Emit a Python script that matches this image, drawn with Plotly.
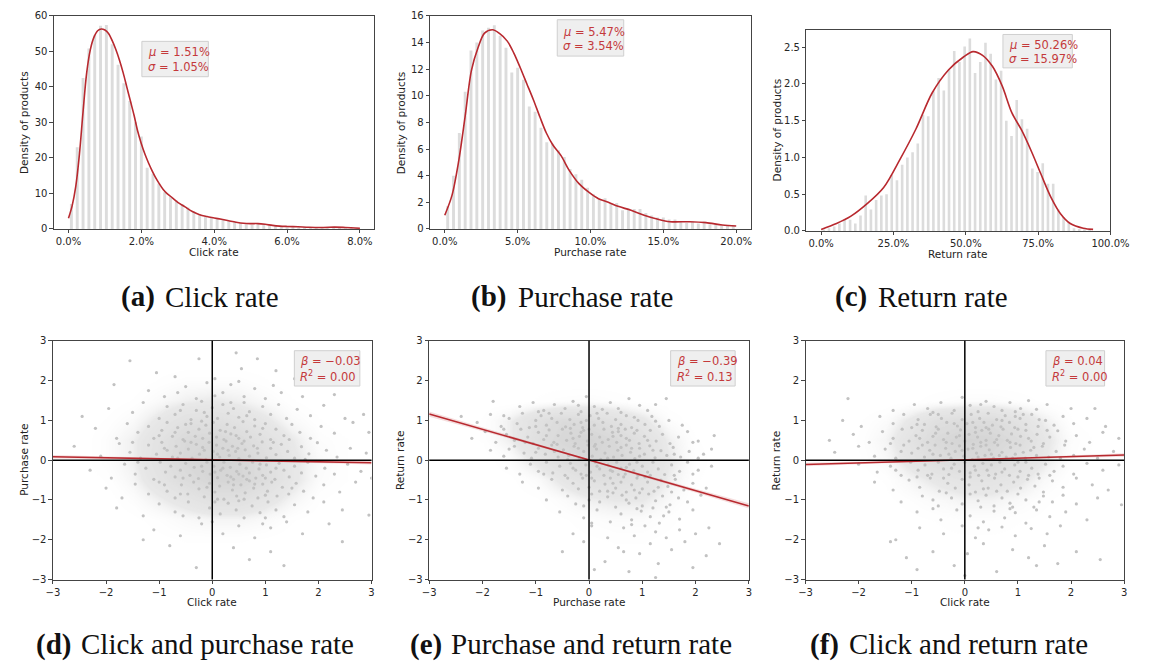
import plotly.graph_objects as go

W, H = 1149, 668

# ---------------- Histogram data ----------------
click_bins = [0.08,0.24,0.40,0.56,0.72,0.88,1.04,1.20,1.36,1.52,1.68,1.84,2.00,2.16,2.32,2.48,2.64,2.80,2.96,3.12,
              3.28,3.44,3.60,3.76,3.92,4.08,4.24,4.40,4.56,4.72,4.88,5.04,5.20,5.36,5.52,5.68,5.84,6.00,6.16,6.32,
              6.48,6.64,6.80,6.96,7.12,7.28,7.44,7.60,7.76,7.92]
click_hist = [7,23,42.5,50.8,54.5,57.2,57.4,52,46.2,41,36,30,26,17.2,15.5,12.8,10.3,9,8,7,
              6,5,4.2,3.6,3.2,2.8,2.5,2.2,1.9,1.6,1.3,1.2,1.3,1.1,0.9,0.8,0.8,0.6,0.5,0.5,
              0.4,0.4,0.3,0.4,0.3,0.4,0.4,0.3,0.2,0.2]
click_kde_x = [0,0.1,0.2,0.3,0.4,0.5,0.6,0.7,0.8,0.9,1.0,1.1,1.2,1.3,1.4,1.5,1.6,1.7,1.8,1.9,2.0,2.1,2.2,2.3,2.4,
               2.5,2.6,2.7,2.8,3.0,3.2,3.4,3.6,3.8,4.0,4.2,4.4,4.6,4.8,5.0,5.2,5.4,5.6,5.8,6.0,6.3,6.6,7.0,7.3,7.6,8.0]
click_kde_y = [3,6.5,12,21,33,44,50.5,54,55.8,56.3,56,55,53,50.5,47.5,44,40,36,32,27.5,24,21,18.5,16.3,14.3,
               12.6,11.1,10,9.2,7.5,6.2,4.9,4.0,3.5,3.1,2.7,2.3,1.9,1.6,1.5,1.5,1.3,1.0,0.8,0.7,0.6,0.45,0.4,0.5,0.4,0.2]

purchase_bins = [0.2,0.6,1.0,1.4,1.8,2.2,2.6,3.0,3.4,3.8,4.2,4.6,5.0,5.4,5.8,6.2,6.6,7.0,7.4,7.8,
                 8.2,8.6,9.0,9.4,9.8,10.2,10.6,11.0,11.4,11.8,12.2,12.6,13.0,13.4,13.8,14.2,14.6,15.0,15.4,15.8,
                 16.2,16.6,17.0,17.4,17.8,18.2,18.6,19.0,19.4,19.8]
purchase_hist = [1.7,4.0,7.2,10.3,13.4,14.0,14.9,15.1,15.3,14.5,13.6,11.75,12.1,11.2,9.2,8.8,7.6,6.5,6.4,5.9,
                 5.4,4.5,4.1,3.7,3.1,2.6,2.25,2.3,1.9,1.95,1.4,1.5,1.5,1.5,1.2,1.0,0.85,0.85,0.7,0.7,
                 0.6,0.45,0.55,0.4,0.55,0.35,0.35,0.25,0.25,0.25]
purchase_kde_x = [0,0.49,0.94,1.39,1.83,2.28,2.73,3.28,3.73,4.29,4.74,5.18,5.63,6.08,6.53,6.97,7.42,7.98,8.54,
                  9.21,9.88,10.55,11.22,11.89,12.78,13.68,14.57,15.46,16.8,17.92,19.04,20.0]
purchase_kde_y = [1.03,2.5,5.0,8.4,11.9,13.6,14.7,14.95,14.7,14.1,13.2,12.1,10.9,9.7,8.4,7.2,6.3,5.5,4.4,
                  3.4,2.76,2.27,2.0,1.7,1.4,1.03,0.74,0.54,0.54,0.47,0.3,0.22]

return_bins = [0.9,2.7,4.5,6.3,8.1,10.0,11.8,13.6,15.4,17.2,19.0,20.8,22.6,24.4,26.2,28.0,29.8,31.6,33.4,35.2,
               37.0,38.8,40.6,42.4,44.2,46.0,47.8,49.6,51.4,53.2,55.0,56.8,58.6,60.4,62.2,64.0,65.8,67.6,69.4,71.2,
               73.0,74.8,76.6,78.4,80.2,82.0,83.8,85.6,87.4,89.2,91.0,92.8]
return_hist = [0.02,0.035,0.06,0.10,0.155,0.15,0.10,0.21,0.48,0.29,0.42,0.48,0.50,0.76,0.69,0.9,1.0,1.07,1.19,1.58,
               1.56,1.90,2.08,1.91,2.19,2.45,2.30,2.51,2.62,2.15,2.30,2.56,2.41,2.06,2.18,1.50,1.29,1.78,1.52,1.39,
               0.85,0.80,0.92,0.64,0.64,0.29,0.19,0.12,0.035,0.025,0.02,0.015]
return_kde_x = [0,5.3,10.3,15.9,21.6,27.2,32.8,38.4,44.0,49.3,52.5,55.8,59.2,62.6,65.9,69.3,72.7,76.0,79.4,
                82.8,86.1,90.6,94.0]
return_kde_y = [0.02,0.1,0.2,0.37,0.59,0.97,1.39,1.88,2.19,2.37,2.44,2.39,2.24,1.97,1.61,1.37,1.08,0.77,0.46,
                0.23,0.1,0.035,0.02]

# ---------------- Scatter data (standardised rates) ----------------
click_purchase_pts = [
    (-1.55,2.50),(-0.25,2.55),(0.45,2.70),(0.05,2.05),(0.85,2.55),(1.20,2.25),(-0.70,2.10),(0.55,2.30),(-1.05,2.20),(1.55,2.05),
    (-1.85,1.90),(-1.20,1.75),(-0.90,1.60),(-0.50,1.85),(-0.30,1.55),(-0.10,1.95),(0.20,1.70),(0.35,1.90),(0.60,1.60),(0.80,1.80),
    (1.00,1.55),(1.30,1.70),(1.70,1.60),(2.30,1.65),(-0.65,1.70),(0.05,1.62),(0.50,1.98),(1.15,1.88),
    (-2.45,1.10),(-1.95,1.30),(-1.50,1.20),(-1.30,1.45),(-1.00,1.05),(-0.85,1.35),(-0.70,1.15),(-0.55,1.40),(-0.40,1.02),(-0.30,1.25),
    (-0.20,1.48),(-0.10,1.10),(0.00,1.32),(0.10,1.05),(0.20,1.40),(0.30,1.18),(0.40,1.30),(0.50,1.08),(0.60,1.45),(0.70,1.22),
    (0.80,1.02),(0.95,1.35),(1.10,1.15),(1.25,1.40),(1.40,1.05),(1.60,1.28),(1.85,1.12),(2.10,1.38),(2.50,1.05),(2.85,1.15),
    (-0.15,1.20),(0.35,1.45),(0.65,1.12),(-0.60,1.25),
    (-2.20,0.80),(-1.80,0.55),(-1.60,0.92),(-1.40,0.70),(-1.20,0.85),(-1.10,0.55),(-0.95,0.75),(-0.85,0.95),(-0.75,0.60),(-0.65,0.82),
    (-0.55,0.52),(-0.45,0.70),(-0.40,0.92),(-0.32,0.60),(-0.25,0.78),(-0.18,0.55),(-0.12,0.88),(-0.05,0.68),(0.02,0.95),(0.08,0.58),
    (0.15,0.75),(0.22,0.52),(0.28,0.90),(0.35,0.66),(0.42,0.82),(0.50,0.55),(0.58,0.97),(0.65,0.72),(0.72,0.58),(0.80,0.86),
    (0.90,0.65),(1.00,0.92),(1.10,0.52),(1.20,0.78),(1.35,0.62),(1.50,0.90),(1.65,0.70),(1.85,0.55),(2.05,0.85),(2.30,0.68),
    (2.65,0.95),(2.95,0.70),(-0.70,0.70),(-0.20,0.98),(0.45,0.62),(0.95,0.80),(-1.00,0.62),(0.25,0.72),(-0.50,0.90),(1.45,0.52),
    (-2.60,0.35),(-2.10,0.10),(-1.75,0.42),(-1.55,0.20),(-1.35,0.05),(-1.20,0.38),(-1.05,0.15),(-0.95,0.45),(-0.85,0.25),(-0.75,0.08),
    (-0.68,0.35),(-0.60,0.18),(-0.52,0.48),(-0.45,0.28),(-0.38,0.05),(-0.30,0.40),(-0.24,0.15),(-0.18,0.32),(-0.12,0.02),(-0.06,0.45),
    (0.02,0.22),(0.08,0.38),(0.14,0.08),(0.20,0.30),(0.26,0.48),(0.32,0.12),(0.38,0.35),(0.44,0.22),(0.50,0.04),(0.56,0.42),
    (0.62,0.26),(0.70,0.10),(0.78,0.36),(0.86,0.18),(0.94,0.46),(1.02,0.06),(1.10,0.30),(1.20,0.14),(1.30,0.40),(1.42,0.22),
    (1.55,0.05),(1.68,0.34),(1.82,0.16),(1.98,0.44),(2.15,0.25),(2.35,0.08),(2.60,0.30),(2.90,0.18),(-0.90,0.30),(-0.40,0.45),
    (0.10,0.15),(0.60,0.48),(1.15,0.45),(0.30,0.25),(-0.15,0.25),(0.85,0.30),(-1.50,0.45),(0.48,0.30),(-0.65,0.05),(1.75,0.02),
    (-2.30,-0.25),(-1.90,-0.45),(-1.65,-0.10),(-1.45,-0.35),(-1.25,-0.20),(-1.10,-0.48),(-0.98,-0.05),(-0.88,-0.30),(-0.78,-0.15),(-0.70,-0.42),
    (-0.60,-0.25),(-0.50,-0.08),(-0.42,-0.38),(-0.34,-0.18),(-0.26,-0.46),(-0.18,-0.28),(-0.10,-0.05),(-0.04,-0.35),(0.03,-0.15),(0.10,-0.44),
    (0.16,-0.25),(0.22,-0.05),(0.28,-0.38),(0.34,-0.18),(0.40,-0.48),(0.46,-0.28),(0.52,-0.10),(0.58,-0.40),(0.64,-0.20),(0.70,-0.32),
    (0.76,-0.05),(0.82,-0.45),(0.88,-0.22),(0.95,-0.38),(1.02,-0.12),(1.10,-0.30),(1.18,-0.48),(1.26,-0.08),(1.35,-0.25),(1.45,-0.42),
    (1.55,-0.15),(1.68,-0.32),(1.80,-0.05),(1.95,-0.40),(2.12,-0.20),(2.30,-0.35),(2.55,-0.10),(2.80,-0.28),(3.00,-0.45),(0.05,-0.30),
    (0.50,-0.35),(0.90,-0.10),(0.35,-0.42),(-0.20,-0.15),(1.20,-0.20),(0.65,-0.48),(-0.55,-0.45),(0.20,-0.20),(1.00,-0.45),(-1.40,-0.05),
    (-2.00,-0.70),(-1.70,-0.95),(-1.45,-0.60),(-1.20,-0.85),(-1.00,-0.55),(-0.85,-0.78),(-0.70,-0.95),(-0.58,-0.62),(-0.46,-0.85),(-0.35,-0.55),
    (-0.25,-0.72),(-0.15,-0.92),(-0.05,-0.58),(0.05,-0.80),(0.14,-0.65),(0.22,-0.98),(0.30,-0.55),(0.38,-0.75),(0.46,-0.90),(0.54,-0.62),
    (0.62,-0.82),(0.70,-0.52),(0.78,-0.70),(0.86,-0.95),(0.95,-0.60),(1.04,-0.78),(1.12,-0.55),(1.22,-0.90),(1.32,-0.68),(1.44,-0.85),
    (1.58,-0.58),(1.72,-0.78),(1.90,-0.95),(2.10,-0.62),(2.40,-0.80),(2.70,-0.55),(-0.60,-0.85),(0.10,-0.98),(0.60,-0.98),(1.00,-0.88),
    (0.40,-0.62),(-0.10,-0.68),(0.80,-0.60),(1.50,-0.70),(-0.90,-0.62),
    (-1.80,-1.20),(-1.30,-1.40),(-1.00,-1.10),(-0.70,-1.30),(-0.45,-1.05),(-0.25,-1.45),(-0.05,-1.20),(0.15,-1.35),(0.30,-1.08),(0.45,-1.25),
    (0.60,-1.45),(0.75,-1.15),(0.90,-1.32),(1.05,-1.05),(1.20,-1.25),(1.35,-1.42),(1.55,-1.12),(1.80,-1.30),(2.10,-1.05),(2.45,-1.25),
    (-0.55,-1.40),(0.50,-1.02),(1.00,-1.45),(0.05,-1.05),(2.95,-1.38),
    (-1.10,-1.75),(-0.60,-1.90),(-0.20,-1.60),(0.20,-1.85),(0.50,-1.65),(0.80,-1.95),(1.10,-1.70),(1.40,-1.55),(1.70,-1.85),(2.20,-1.60),
    (0.00,-1.55),(0.95,-1.60),
    (-1.30,-2.00),(-0.30,-2.70),(0.40,-2.20),(1.10,-2.30),(1.35,-2.65),(2.45,-2.05),(-0.80,-2.15),(0.70,-2.50),
]

purchase_return_pts = [
    (-1.30,1.35),(-1.05,1.45),(-0.85,1.25),(-0.65,1.40),(-0.45,1.30),(-0.30,1.48),(-0.15,1.22),(-0.05,1.60),(0.10,1.35),(0.25,1.28),
    (0.40,1.45),(0.55,1.30),(0.75,1.55),(0.95,1.38),(1.10,1.25),(1.25,1.40),(-0.95,1.22),(-0.20,1.38),(0.60,1.20),(1.45,1.55),(-1.80,1.48),
    (-2.40,1.10),(-2.10,0.95),(-1.85,1.15),(-1.65,0.85),(-1.50,1.05),(-1.35,0.92),(-1.25,1.18),(-1.12,0.82),(-1.00,1.00),(-0.90,1.12),
    (-0.80,0.88),(-0.70,1.05),(-0.60,0.95),(-0.52,1.18),(-0.44,0.84),(-0.36,1.02),(-0.28,0.90),(-0.20,1.15),(-0.12,0.82),(-0.05,1.00),
    (0.02,1.12),(0.10,0.88),(0.18,1.05),(0.26,0.95),(0.34,1.18),(0.42,0.85),(0.50,1.02),(0.60,0.90),(0.70,1.12),(0.80,0.82),
    (0.92,1.00),(1.05,0.90),(1.18,1.10),(1.32,0.85),(1.50,1.00),(1.75,0.88),(-0.75,1.18),(-0.35,0.80),(0.15,1.18),(0.55,0.80),
    (-1.00,0.85),(0.85,1.08),(-0.15,0.95),(-1.60,1.12),(1.25,0.98),
    (-2.20,0.55),(-1.95,0.72),(-1.75,0.45),(-1.55,0.65),(-1.40,0.50),(-1.28,0.78),(-1.15,0.58),(-1.05,0.42),(-0.95,0.70),(-0.85,0.52),
    (-0.75,0.76),(-0.66,0.45),(-0.58,0.62),(-0.50,0.78),(-0.42,0.50),(-0.34,0.68),(-0.26,0.42),(-0.18,0.60),(-0.10,0.75),(-0.03,0.48),
    (0.05,0.65),(0.12,0.40),(0.20,0.58),(0.28,0.78),(0.36,0.52),(0.44,0.70),(0.52,0.45),(0.60,0.62),(0.68,0.78),(0.76,0.50),
    (0.85,0.68),(0.94,0.42),(1.04,0.60),(1.15,0.75),(1.26,0.48),(1.38,0.65),(1.52,0.42),(1.68,0.58),(1.85,0.72),(2.05,0.48),
    (2.35,0.62),(-0.80,0.62),(-0.30,0.55),(0.25,0.45),(0.70,0.55),(-1.20,0.45),(0.00,0.78),(0.45,0.60),(-0.60,0.40),(1.10,0.50),
    (-0.15,0.70),(0.90,0.75),(-1.60,0.78),(0.55,0.72),(1.95,0.45),
    (-1.85,0.25),(-1.60,0.10),(-1.40,0.35),(-1.22,0.18),(-1.08,0.05),(-0.95,0.30),(-0.82,0.15),(-0.70,0.38),(-0.58,0.08),(-0.48,0.26),
    (-0.38,0.12),(-0.28,0.35),(-0.18,0.05),(-0.10,0.22),(-0.02,0.38),(0.06,0.10),(0.14,0.28),(0.22,0.02),(0.30,0.18),(0.38,0.35),
    (0.46,0.08),(0.54,0.25),(0.62,0.12),(0.70,0.38),(0.78,0.20),(0.86,0.04),(0.95,0.30),(1.04,0.15),(1.14,0.36),(1.24,0.06),
    (1.35,0.24),(1.46,0.12),(1.58,0.32),(1.72,0.08),(1.88,0.22),(2.05,0.05),(2.30,0.28),(-0.65,0.22),(-0.20,0.30),(0.35,0.05),
    (0.80,0.30),(-1.00,0.20),(0.10,0.35),(1.20,0.25),(-0.40,0.02),(0.60,0.32),(1.60,0.15),(2.15,0.15),(-1.50,0.28),(0.95,0.10),
    (-1.55,-0.20),(-1.30,-0.35),(-1.10,-0.10),(-0.95,-0.28),(-0.80,-0.05),(-0.68,-0.32),(-0.55,-0.15),(-0.45,-0.38),(-0.35,-0.08),(-0.25,-0.25),
    (-0.15,-0.35),(-0.06,-0.12),(0.03,-0.30),(0.12,-0.05),(0.20,-0.22),(0.28,-0.38),(0.36,-0.12),(0.44,-0.28),(0.52,-0.05),(0.60,-0.20),
    (0.68,-0.35),(0.76,-0.10),(0.84,-0.26),(0.92,-0.38),(1.00,-0.15),(1.10,-0.30),(1.20,-0.05),(1.30,-0.22),(1.42,-0.36),(1.55,-0.12),
    (1.70,-0.28),(1.85,-0.05),(2.05,-0.25),(2.30,-0.15),(-0.05,-0.38),(0.40,-0.25),(0.90,-0.05),(1.15,-0.38),(-0.30,-0.20),(0.70,-0.18),
    (1.60,-0.38),(0.15,-0.15),(-0.85,-0.35),(1.95,-0.35),(0.55,-0.36),
    (-1.25,-0.55),(-0.95,-0.70),(-0.70,-0.48),(-0.50,-0.75),(-0.30,-0.58),(-0.12,-0.45),(0.00,-0.68),(0.10,-0.52),(0.20,-0.78),(0.30,-0.60),
    (0.40,-0.45),(0.50,-0.70),(0.60,-0.55),(0.70,-0.80),(0.80,-0.62),(0.90,-0.45),(1.00,-0.72),(1.10,-0.55),(1.22,-0.78),(1.35,-0.50),
    (1.48,-0.66),(1.62,-0.48),(1.78,-0.75),(1.95,-0.58),(-0.20,-0.72),(0.35,-0.78),(0.85,-0.75),(1.30,-0.68),(0.65,-0.42),(0.05,-0.45),
    (-0.40,-0.45),(1.55,-0.80),(0.45,-0.58),(1.05,-0.42),(2.20,-0.70),
    (-0.80,-1.00),(-0.40,-0.90),(-0.10,-1.15),(0.05,-0.85),(0.20,-1.05),(0.35,-0.92),(0.50,-1.18),(0.62,-0.88),(0.75,-1.08),(0.88,-0.95),
    (1.00,-1.15),(1.12,-0.85),(1.25,-1.02),(1.38,-0.90),(1.52,-1.12),(1.68,-0.95),(1.85,-1.05),(2.10,-0.88),(0.00,-1.00),(0.45,-0.82),
    (0.95,-0.82),(1.45,-1.18),(-0.25,-1.10),(0.70,-1.00),(1.20,-1.20),
    (-0.55,-1.30),(-0.10,-1.45),(0.15,-1.25),(0.40,-1.55),(0.60,-1.35),(0.80,-1.50),(0.98,-1.28),(1.15,-1.42),(1.32,-1.58),(1.50,-1.30),
    (1.70,-1.48),(1.95,-1.25),(0.05,-1.58),(0.90,-1.22),(1.40,-1.40),
    (-0.30,-1.85),(0.05,-1.65),(0.35,-1.95),(0.65,-1.70),(0.85,-1.90),(1.05,-1.65),(1.25,-1.80),(1.45,-1.95),(1.70,-1.75),(2.00,-1.85),
    (0.80,-1.62),(2.25,-1.70),
    (-0.50,-2.30),(-0.10,-2.05),(0.30,-2.55),(0.55,-2.20),(0.75,-2.80),(0.95,-2.35),(1.15,-2.10),(1.30,-2.60),(1.55,-2.25),(1.80,-2.05),
    (1.95,-2.70),(2.20,-2.40),(2.45,-2.10),(0.10,-2.75),(0.65,-2.30),(1.25,-2.95),
]

click_return_pts = [
    (-2.20,1.55),(-1.35,1.25),(-0.95,1.40),(-0.70,1.30),(-0.45,1.45),(-0.20,1.25),(-0.05,1.58),(0.10,1.38),(0.25,1.22),(0.40,1.48),
    (0.55,1.35),(0.70,1.25),(0.85,1.45),(1.05,1.30),(1.20,1.50),(1.35,1.28),(1.55,1.40),(-0.60,1.20),(0.30,1.40),(0.95,1.22),(2.00,1.30),(2.45,1.30),
    (-2.30,1.00),(-1.95,0.85),(-1.60,1.10),(-1.35,0.92),(-1.15,1.15),(-1.00,0.82),(-0.88,1.02),(-0.76,0.90),(-0.65,1.15),(-0.54,0.84),
    (-0.44,1.05),(-0.34,0.95),(-0.24,1.18),(-0.14,0.86),(-0.05,1.02),(0.04,0.92),(0.12,1.15),(0.20,0.82),(0.28,1.05),(0.36,0.95),
    (0.44,1.18),(0.52,0.88),(0.60,1.02),(0.68,0.84),(0.76,1.12),(0.84,0.95),(0.94,0.82),(1.04,1.05),(1.15,0.90),(1.26,1.15),
    (1.38,0.85),(1.52,1.00),(1.68,0.88),(1.85,1.10),(2.05,0.92),(2.30,1.05),(2.65,0.85),(-0.50,1.15),(0.15,0.95),(0.70,1.00),
    (-0.90,0.90),(1.10,1.15),(0.40,0.82),(-0.20,0.92),(0.95,1.10),(1.40,1.02),
    (-2.55,0.50),(-2.10,0.65),(-1.80,0.45),(-1.55,0.72),(-1.35,0.55),(-1.18,0.78),(-1.05,0.48),(-0.92,0.62),(-0.80,0.75),(-0.70,0.45),
    (-0.60,0.60),(-0.50,0.78),(-0.40,0.52),(-0.32,0.68),(-0.24,0.42),(-0.16,0.58),(-0.08,0.76),(0.00,0.48),(0.08,0.65),(0.16,0.40),
    (0.24,0.58),(0.32,0.75),(0.40,0.50),(0.48,0.68),(0.56,0.45),(0.64,0.62),(0.72,0.78),(0.80,0.50),(0.88,0.66),(0.96,0.42),
    (1.05,0.60),(1.15,0.75),(1.25,0.48),(1.36,0.65),(1.48,0.42),(1.60,0.58),(1.75,0.74),(1.90,0.48),(2.10,0.62),(2.35,0.45),
    (2.60,0.70),(2.90,0.55),(-0.85,0.55),(-0.35,0.45),(0.20,0.70),(0.60,0.52),(1.00,0.78),(-0.10,0.62),(0.45,0.78),(1.20,0.55),
    (-1.40,0.42),(0.85,0.45),(0.30,0.45),(-0.55,0.68),(1.55,0.75),
    (-2.45,0.20),(-2.00,0.35),(-1.70,0.10),(-1.50,0.28),(-1.30,0.05),(-1.15,0.38),(-1.00,0.18),(-0.88,0.30),(-0.76,0.08),(-0.66,0.25),
    (-0.56,0.38),(-0.46,0.12),(-0.36,0.30),(-0.26,0.05),(-0.18,0.22),(-0.10,0.36),(-0.02,0.10),(0.06,0.28),(0.14,0.02),(0.22,0.18),
    (0.30,0.35),(0.38,0.12),(0.46,0.26),(0.54,0.05),(0.62,0.38),(0.70,0.20),(0.78,0.08),(0.86,0.32),(0.95,0.15),(1.04,0.38),
    (1.14,0.05),(1.24,0.25),(1.35,0.12),(1.46,0.35),(1.58,0.08),(1.72,0.22),(1.88,0.38),(2.05,0.12),(2.25,0.28),(2.50,0.05),
    (2.80,0.22),(-0.60,0.15),(-0.05,0.25),(0.40,0.38),(0.90,0.05),(1.30,0.32),(-1.20,0.22),(0.15,0.30),(0.65,0.12),(-0.30,0.15),
    (1.10,0.20),(0.50,0.15),(-0.80,0.38),(1.80,0.05),(0.25,0.08),
    (-2.00,-0.10),(-1.65,-0.30),(-1.40,-0.15),(-1.20,-0.38),(-1.02,-0.05),(-0.88,-0.25),(-0.75,-0.12),(-0.62,-0.35),(-0.50,-0.05),(-0.40,-0.22),
    (-0.30,-0.36),(-0.20,-0.10),(-0.10,-0.28),(0.00,-0.05),(0.10,-0.32),(0.18,-0.15),(0.26,-0.38),(0.34,-0.08),(0.42,-0.25),(0.50,-0.12),
    (0.58,-0.35),(0.66,-0.05),(0.75,-0.22),(0.84,-0.38),(0.94,-0.12),(1.04,-0.28),(1.15,-0.05),(1.26,-0.20),(1.38,-0.35),(1.52,-0.10),
    (1.68,-0.28),(1.85,-0.15),(2.05,-0.35),(2.30,-0.08),(2.60,-0.25),(-0.70,-0.38),(0.20,-0.25),(0.70,-0.30),(1.20,-0.38),(-0.25,-0.20),
    (0.45,-0.38),(1.00,-0.05),(-1.30,-0.25),(1.60,-0.38),(2.90,-0.12),
    (-1.70,-0.55),(-1.35,-0.75),(-1.05,-0.50),(-0.85,-0.68),(-0.65,-0.45),(-0.48,-0.78),(-0.32,-0.58),(-0.18,-0.70),(-0.05,-0.48),(0.08,-0.62),
    (0.20,-0.80),(0.32,-0.52),(0.44,-0.70),(0.56,-0.45),(0.68,-0.62),(0.80,-0.78),(0.92,-0.55),(1.05,-0.70),(1.18,-0.48),(1.32,-0.65),
    (1.48,-0.80),(1.65,-0.52),(1.85,-0.68),(2.10,-0.45),(2.40,-0.62),(-0.40,-0.45),(0.10,-0.42),(0.60,-0.78),(1.00,-0.42),(-0.90,-0.42),
    (1.40,-0.45),(0.35,-0.72),(2.70,-0.75),
    (-1.20,-1.05),(-0.80,-0.90),(-0.50,-1.15),(-0.25,-0.95),(-0.05,-1.10),(0.10,-0.85),(0.25,-1.02),(0.40,-0.88),(0.55,-1.15),(0.70,-0.95),
    (0.85,-1.08),(1.00,-0.85),(1.15,-1.00),(1.30,-1.18),(1.48,-0.90),(1.65,-1.05),(1.85,-0.88),(2.10,-1.10),(2.50,-0.95),(-0.35,-0.82),
    (0.30,-1.18),(0.90,-1.18),(-0.60,-1.00),(1.40,-1.05),(2.95,-1.12),
    (-0.90,-1.30),(-0.45,-1.50),(-0.15,-1.25),(0.10,-1.40),(0.35,-1.55),(0.55,-1.28),(0.75,-1.45),(0.95,-1.32),(1.15,-1.58),(1.35,-1.25),
    (1.60,-1.42),(1.90,-1.30),(2.30,-1.50),(-0.60,-1.22),(0.85,-1.22),
    (-0.85,-1.70),(-0.40,-1.85),(-0.05,-1.65),(0.20,-1.95),(0.45,-1.75),(0.70,-1.68),(0.95,-1.90),(1.25,-1.72),(1.55,-1.85),(1.80,-1.65),
    (0.25,-1.70),(-1.30,-2.00),
    (-1.40,-2.05),(-1.10,-2.45),(-0.60,-2.30),(-0.20,-2.65),(0.05,-2.35),(0.35,-2.10),(0.60,-2.80),(0.90,-2.25),(1.20,-2.45),(1.50,-2.15),
    (1.75,-2.60),(2.10,-2.30),(2.55,-2.50),(-0.90,-2.75),(0.00,-2.90),(1.35,-2.65),
]

# point-cloud density (grid -3..3 step 0.5, rows = y from -3 up to 3)
grid = [-3, -2.5, -2, -1.5, -1, -0.5, 0, 0.5, 1, 1.5, 2, 2.5, 3]
click_purchase_dens = [
    [0,0,0,0,0,0,0,0,0,0,0,0,0],
    [0,0,0,0,0,0,0,0,0,0,0,0,0],
    [0,0,0,0,.02,.05,.05,.05,.03,0,0,0,0],
    [0,0,0,.02,.08,.15,.2,.2,.15,.05,0,0,0],
    [0,0,0,.1,.25,.4,.55,.55,.4,.2,.05,0,0],
    [0,0,.05,.2,.45,.7,.9,.9,.65,.35,.12,.05,0],
    [0,0,.1,.25,.55,.85,.95,.9,.65,.35,.15,.05,0],
    [0,0,.1,.25,.5,.8,.85,.75,.55,.3,.1,.05,0],
    [0,0,.05,.15,.35,.55,.6,.5,.35,.15,.05,0,0],
    [0,0,0,.05,.15,.25,.3,.25,.15,.05,0,0,0],
    [0,0,0,0,.05,.1,.1,.1,.05,0,0,0,0],
    [0,0,0,0,0,0,0,0,0,0,0,0,0],
    [0,0,0,0,0,0,0,0,0,0,0,0,0],
]
purchase_return_dens = [
    [0,0,0,0,0,0,0,0,0,0,0,0,0],
    [0,0,0,0,0,0,.01,.02,.02,.01,0,0,0],
    [0,0,0,0,0,.01,.03,.05,.05,.02,0,0,0],
    [0,0,0,0,0,.03,.08,.12,.12,.06,0,0,0],
    [0,0,0,0,.03,.12,.25,.3,.3,.15,.03,0,0],
    [0,0,0,.02,.12,.35,.55,.6,.5,.25,.05,0,0],
    [0,0,0,.1,.35,.65,.85,.85,.6,.3,.08,0,0],
    [0,0,.05,.25,.6,.85,.95,.8,.55,.25,.05,0,0],
    [0,0,.05,.25,.55,.75,.7,.55,.35,.1,0,0,0],
    [0,0,0,0,.05,.1,.12,.08,.03,0,0,0,0],
    [0,0,0,0,0,0,0,0,0,0,0,0,0],
    [0,0,0,0,0,0,0,0,0,0,0,0,0],
    [0,0,0,0,0,0,0,0,0,0,0,0,0],
]
click_return_dens = [
    [0,0,0,0,0,0,0,0,0,0,0,0,0],
    [0,0,0,0,0,.01,.02,.02,.01,0,0,0,0],
    [0,0,0,0,0,.02,.03,.03,.02,0,0,0,0],
    [0,0,0,0,.02,.05,.08,.08,.05,.02,0,0,0],
    [0,0,0,.02,.08,.15,.22,.22,.15,.06,0,0,0],
    [0,0,0,.05,.2,.35,.45,.45,.35,.15,.03,0,0],
    [0,0,.03,.15,.4,.65,.8,.75,.55,.3,.08,.02,0],
    [0,0,.05,.2,.5,.8,.95,.9,.7,.35,.1,.03,0],
    [0,0,.03,.12,.35,.6,.7,.7,.5,.25,.05,0,0],
    [0,0,0,0,.03,.08,.12,.12,.08,.03,0,0,0],
    [0,0,0,0,0,0,0,0,0,0,0,0,0],
    [0,0,0,0,0,0,0,0,0,0,0,0,0],
    [0,0,0,0,0,0,0,0,0,0,0,0,0],
]

# regression lines and confidence bands
reg_x = [-3, -1.5, 0, 1.5, 3]
cp_fit = [0.085, 0.0475, 0.01, -0.0275, -0.065]
cp_hi = [0.13, 0.0725, 0.025, -0.0025, -0.02]
cp_lo = [0.04, 0.0225, -0.005, -0.0525, -0.11]
pr_fit = [1.16, 0.5825, 0.005, -0.5725, -1.15]
pr_hi = [1.225, 0.6175, 0.025, -0.5375, -1.085]
pr_lo = [1.095, 0.5475, -0.015, -0.6075, -1.215]
cr_fit = [-0.11, -0.05, 0.01, 0.07, 0.13]
cr_hi = [-0.065, -0.025, 0.025, 0.095, 0.175]
cr_lo = [-0.155, -0.075, -0.005, 0.045, 0.085]

stat_line1 = ["<i>μ</i> = 1.51%", "<i>μ</i> = 5.47%", "<i>μ</i> = 50.26%",
              "<i>β</i> = −0.03", "<i>β</i> = −0.39", "<i>β</i> = 0.04"]
stat_line2 = ["<i>σ</i> = 1.05%", "<i>σ</i> = 3.54%", "<i>σ</i> = 15.97%",
              "<i>R</i><sup>2</sup> = 0.00", "<i>R</i><sup>2</sup> = 0.13", "<i>R</i><sup>2</sup> = 0.00"]
caption_tags = ["(a)", "(b)", "(c)", "(d)", "(e)", "(f)"]
caption_names = ["Click rate", "Purchase rate", "Return rate",
                 "Click and purchase rate", "Purchase and return rate", "Click and return rate"]
x_titles = ["Click rate", "Purchase rate", "Return rate", "Click rate", "Purchase rate", "Click rate"]
y_titles = ["Density of products"] * 3 + ["Purchase rate", "Return rate", "Return rate"]

# ---------------- styling / geometry ----------------
RED = "#b8292f"
TXT_RED = "#c4393b"
BAR = "#dcdcdc"
DOT = "#c2c2c2"

def fx(p):
    return p / W

def fy(p):
    return 1 - p / H

# pixel boxes of each plotting area: (left, right, top, bottom)
boxes = [(48, 376, 10, 227), (433, 761, 10, 227), (818, 1129, 24, 229),
         (47, 373, 341, 584), (432, 759, 341, 584), (817, 1143, 341, 584)]

fig = go.Figure()

def axn(i):
    return "" if i == 0 else str(i + 1)

hist_sets = [(click_bins, click_hist, 0.08, click_kde_x, click_kde_y),
             (purchase_bins, purchase_hist, 0.2, purchase_kde_x, purchase_kde_y),
             (return_bins, return_hist, 0.9, return_kde_x, return_kde_y)]
for i, (bx, by, bw, kx, ky) in enumerate(hist_sets):
    fig.add_trace(go.Bar(x=bx, y=by, width=bw, marker=dict(color=BAR, line=dict(width=0)),
                         xaxis="x" + axn(i), yaxis="y" + axn(i), hoverinfo="skip"))
    fig.add_trace(go.Scatter(x=kx, y=ky, mode="lines",
                             line=dict(color=RED, width=1.6, shape="spline", smoothing=0.9),
                             xaxis="x" + axn(i), yaxis="y" + axn(i)))

scatter_sets = [(click_purchase_pts, click_purchase_dens, cp_fit, cp_hi, cp_lo),
                (purchase_return_pts, purchase_return_dens, pr_fit, pr_hi, pr_lo),
                (click_return_pts, click_return_dens, cr_fit, cr_hi, cr_lo)]
for j, (pts, dens, fit, hi, lo) in enumerate(scatter_sets):
    i = j + 3
    xa, ya = "x" + axn(i), "y" + axn(i)
    fig.add_trace(go.Heatmap(x=grid, y=grid, z=dens, zmin=0, zmax=1, zsmooth="best",
                             colorscale=[[0, "rgba(255,255,255,0)"], [0.3, "rgba(222,222,222,0.7)"],
                                         [1, "rgba(210,210,210,1)"]],
                             showscale=False, hoverinfo="skip", xaxis=xa, yaxis=ya))
    fig.add_trace(go.Scatter(x=[p[0] for p in pts], y=[p[1] for p in pts], mode="markers",
                             marker=dict(size=3.2, color=DOT, line=dict(width=0)),
                             xaxis=xa, yaxis=ya))
    fig.add_trace(go.Scatter(x=reg_x + reg_x[::-1], y=hi + lo[::-1], mode="lines", fill="toself",
                             fillcolor="rgba(200,70,70,0.18)", line=dict(width=0),
                             xaxis=xa, yaxis=ya))
    fig.add_trace(go.Scatter(x=reg_x, y=fit, mode="lines", line=dict(color=RED, width=1.6),
                             xaxis=xa, yaxis=ya))

axis_style = dict(showline=True, mirror=True, linecolor="#444444", linewidth=1,
                  ticks="outside", ticklen=3.5, tickwidth=1, tickcolor="#444444",
                  showgrid=False, zeroline=False,
                  tickfont=dict(family="DejaVu Sans", size=10, color="#262626"))

x_specs = [
    dict(range=[-0.4, 8.4], tickvals=[0, 2, 4, 6, 8], ticktext=["0.0%", "2.0%", "4.0%", "6.0%", "8.0%"]),
    dict(range=[-1, 21], tickvals=[0, 5, 10, 15, 20], ticktext=["0.0%", "5.0%", "10.0%", "15.0%", "20.0%"]),
    dict(range=[-5.07, 100], tickvals=[0, 25, 50, 75, 100], ticktext=["0.0%", "25.0%", "50.0%", "75.0%", "100.0%"]),
]
y_specs = [
    dict(range=[0, 60], tickvals=[0, 10, 20, 30, 40, 50, 60]),
    dict(range=[0, 16], tickvals=[0, 2, 4, 6, 8, 10, 12, 14, 16]),
    dict(range=[0, 2.74], tickvals=[0, 0.5, 1.0, 1.5, 2.0, 2.5], ticktext=["0.0", "0.5", "1.0", "1.5", "2.0", "2.5"]),
]
std_ticks = dict(range=[-3, 3], tickvals=[-3, -2, -1, 0, 1, 2, 3],
                 ticktext=["−3", "−2", "−1", "0", "1", "2", "3"])

layout = dict(width=W, height=H, margin=dict(l=0, r=0, t=0, b=0),
              paper_bgcolor="white", plot_bgcolor="white", showlegend=False)
for i, (l, r, t, b) in enumerate(boxes):
    xs = x_specs[i] if i < 3 else std_ticks
    ys = y_specs[i] if i < 3 else std_ticks
    layout["xaxis" + axn(i)] = dict(axis_style, domain=[fx(l), fx(r)], anchor="y" + axn(i), **xs)
    layout["yaxis" + axn(i)] = dict(axis_style, domain=[fy(b), fy(t)], anchor="x" + axn(i), **ys)
fig.update_layout(**layout)

shapes = []
# black reference lines through the origin of the standardised panels
for i in range(3, 6):
    shapes.append(dict(type="line", xref="x" + axn(i), yref="y" + axn(i) + " domain",
                       x0=0, x1=0, y0=0, y1=1, line=dict(color="black", width=1.5), layer="above"))
    shapes.append(dict(type="line", xref="x" + axn(i) + " domain", yref="y" + axn(i),
                       x0=0, x1=1, y0=0, y1=0, line=dict(color="black", width=1.5), layer="above"))
# statistic boxes: (left, right, top, bottom) in pixels, text left edge, line centres
stat_boxes = [(138, 206, 36, 72, 142, 47, 62), (563, 631, 14, 51, 567, 26, 41),
              (1019, 1090, 29, 63, 1023, 40, 54), (294, 361, 351, 387, 298, 361, 377),
              (679, 745, 351, 387, 683, 361, 377), (1063, 1123, 351, 387, 1067, 361, 377)]
for (l, r, t, b, tx, y1, y2) in stat_boxes:
    shapes.append(dict(type="rect", xref="paper", yref="paper", x0=fx(l), x1=fx(r), y0=fy(b), y1=fy(t),
                       fillcolor="rgba(238,238,238,0.92)", line=dict(color="#cfcfcf", width=1), layer="above"))
fig.update_layout(shapes=shapes)

annotations = []
for (l, r, t, b, tx, y1, y2), s1, s2 in zip(stat_boxes, stat_line1, stat_line2):
    for txt, yy in ((s1, y1), (s2, y2)):
        annotations.append(dict(text=txt, x=fx(tx), y=fy(yy), xref="paper", yref="paper",
                                xanchor="left", yanchor="middle", showarrow=False,
                                font=dict(family="DejaVu Sans", size=11.5, color=TXT_RED)))
# axis titles
for i, (l, r, t, b) in enumerate(boxes):
    xt_y = 251 if i < 3 else 607
    if i == 2:
        xt_y = 253
    annotations.append(dict(text=x_titles[i], x=fx((l + r) / 2), y=fy(xt_y), xref="paper", yref="paper",
                            xanchor="center", yanchor="middle", showarrow=False,
                            font=dict(family="DejaVu Sans", size=10.5, color="#222222")))
    yt_x = [18, 403, 788, 18, 402, 787][i]
    annotations.append(dict(text=y_titles[i], x=fx(yt_x), y=fy((t + b) / 2), xref="paper", yref="paper",
                            xanchor="center", yanchor="middle", showarrow=False, textangle=-90,
                            font=dict(family="DejaVu Sans", size=10.5, color="#222222")))
# captions: bold tag ends at split[0], plain name starts at split[1], vertical centre cy
cap_pos = [(153, 160, 296), (513, 521, 296), (882, 889, 296),
           (68, 74, 650), (447, 452, 650), (853, 859, 650)]
for tag, name, (x_end, x_start, cy) in zip(caption_tags, caption_names, cap_pos):
    annotations.append(dict(text=tag, x=fx(x_end), y=fy(cy), xref="paper", yref="paper",
                            xanchor="right", yanchor="middle", showarrow=False,
                            font=dict(family="Liberation Serif", size=29, color="#111111", weight="bold")))
    annotations.append(dict(text=name, x=fx(x_start), y=fy(cy), xref="paper", yref="paper",
                            xanchor="left", yanchor="middle", showarrow=False,
                            font=dict(family="Liberation Serif", size=29, color="#111111")))
fig.update_layout(annotations=annotations)

fig.write_html("out.html")
